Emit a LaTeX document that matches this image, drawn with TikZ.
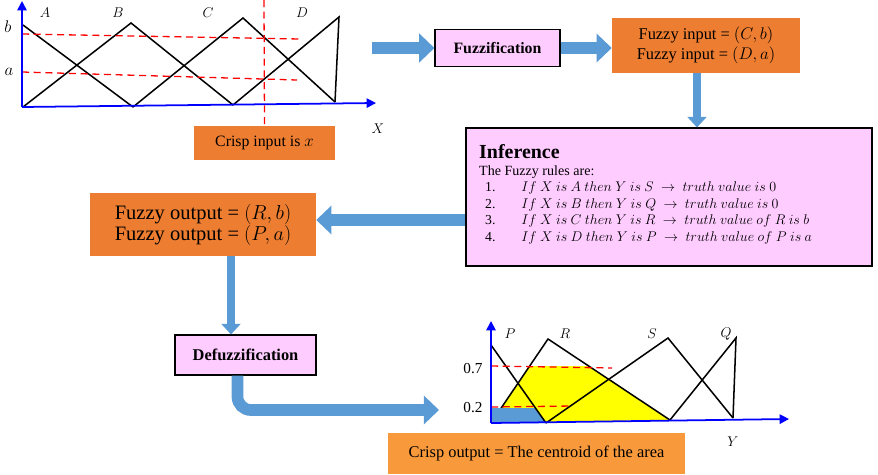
\documentclass[tikz,border=0pt]{standalone}
\usepackage{fontspec}
\setmainfont{Liberation Serif}
\usetikzlibrary{arrows.meta,positioning}
\definecolor{boxpink}{HTML}{FFCCFF}
\definecolor{boxorange}{HTML}{ED7D31}
\definecolor{lightorange}{HTML}{F8993C}
\definecolor{arrowblue}{HTML}{5B9BD5}
\definecolor{axisblue}{HTML}{0000FF}
\definecolor{areayellow}{HTML}{FFFF00}
\tikzset{
  stagebox/.style={draw=black,line width=.9pt,fill=boxpink,inner sep=0pt,font=\fontsize{13.5}{16}\selectfont\bfseries},
  valuebox/.style={fill=boxorange,align=center,inner sep=0pt},
  blockarrow/.style={draw=arrowblue,line width=10pt,-{Triangle[length=13pt,width=24pt]}},
  thinarrow/.style={draw=arrowblue,line width=7pt,-{Triangle[length=9pt,width=16pt]}},
  axis/.style={draw=axisblue,line width=1.5pt,-{Triangle[length=8pt,width=8pt]}},
  member/.style={draw=black,line width=1.3pt},
  level/.style={draw=red,line width=1.1pt,dash pattern=on 6pt off 4pt},
  mlabel/.style={inner sep=0pt,font=\fontsize{12}{14}\selectfont},
}

\begin{document}
\begin{tikzpicture}[x=0.03cm,y=-0.03cm]
  \useasboundingbox (0,0) rectangle (878,474);

  % input membership functions
  \draw[member] (23,25) -- (133,107);
  \draw[member] (23,107) -- (131,23) -- (233,105);
  \draw[member] (133,107) -- (243,18) -- (335,102);
  \draw[member] (233,105) -- (339,17) -- (335,102);
  \draw[level] (22,34) -- (300,39);
  \draw[level] (22,72) -- (297,80);
  \draw[axis] (22,107) -- (22,1);
  \draw[axis] (22,107) -- (376,103);
  \node[mlabel,font=\fontsize{15}{17}\selectfont] (lb) at (8,27) {$b$};
  \node[mlabel,font=\fontsize{15}{17}\selectfont] (la) at (9,72) {$a$};
  \node[mlabel] (lA) at (45,13) {$A$};
  \node[mlabel] (lB) at (118,13) {$B$};
  \node[mlabel] (lC) at (208,13) {$C$};
  \node[mlabel] (lD) at (302,13) {$D$};
  \node[mlabel] (lX) at (378,129) {$X$};

  \node[valuebox,minimum width=4.23cm,minimum height=1.02cm,font=\fontsize{13.5}{16}\selectfont] (cin) at (264.5,143) {Crisp input is $x$};
  \draw[level] (264,0) -- (cin.north);

  % pipeline boxes
  \node[stagebox,minimum width=3.75cm,minimum height=1.11cm] (fuzz) at (497.5,48) {Fuzzification};
  \node[valuebox,minimum width=5.64cm,minimum height=1.65cm,font=\fontsize{14}{17}\selectfont] (fin) at (706,45.5) {Fuzzy input = $(C,b)$\\Fuzzy input = $(D,a)$};
  \node[stagebox,minimum width=12.18cm,minimum height=4.14cm] (inf) at (669,197) {};
  \node[anchor=base west,inner sep=0pt,font=\fontsize{17}{20}\selectfont\bfseries] (infhead) at (479,158) {Inference};
  \node[anchor=base west,inner sep=0pt,font=\fontsize{12}{14}\selectfont] (infsub) at (479,175) {The Fuzzy rules are:};
  \node[anchor=north west,inner sep=0pt,font=\fontsize{11.7}{14.45}\selectfont] (rulelist) at (485,179) {%
    \begin{tabular}{@{}l@{\hspace{22pt}}l@{}}
      1. & $If\ X\ is\ A\ then\ Y\ is\ S\ \rightarrow\ truth\ value\ is\ 0$\\
      2. & $If\ X\ is\ B\ then\ Y\ is\ Q\ \rightarrow\ truth\ value\ is\ 0$\\
      3. & $If\ X\ is\ C\ then\ Y\ is\ R\ \rightarrow\ truth\ value\ of\ R\ is\ b$\\
      4. & $If\ X\ is\ D\ then\ Y\ is\ P\ \rightarrow\ truth\ value\ of\ P\ is\ a$
    \end{tabular}};
  \node[valuebox,minimum width=6.78cm,minimum height=1.89cm,font=\fontsize{17.5}{18}\selectfont] (fout) at (203,224.5) {Fuzzy output = $(R,b)$\\Fuzzy output = $(P,a)$};
  \node[stagebox,minimum width=4.23cm,minimum height=1.2cm,font=\fontsize{14}{16}\selectfont\bfseries] (defz) at (245.5,355) {Defuzzification};
  \node[valuebox,fill=lightorange,minimum width=8.91cm,minimum height=1.23cm,font=\fontsize{14}{16}\selectfont] (cout) at (536.5,453.5) {Crisp output = The centroid of the area};

  % block arrows
  \coordinate (gout) at (372,48);
  \coordinate (gin) at (439,410);
  \draw[blockarrow] (gout) -- (fuzz.west);
  \draw[blockarrow] (fuzz.east) -- (fuzz.east -| fin.west);
  \draw[thinarrow] ([xshift=-0.27cm]fin.south) -- ([xshift=-0.27cm]fin.south |- inf.north);
  \draw[blockarrow] ([yshift=-0.69cm]inf.west) -- ([yshift=-0.69cm]inf.west -| fout.east);
  \draw[thinarrow] ([xshift=0.84cm]fout.south) -- ([xshift=0.84cm]fout.south |- defz.north);
  \draw[blockarrow,rounded corners=0.4cm] ([xshift=-0.24cm]defz.south) |- (gin);

  % output membership functions
  \fill[areayellow] (491,423) -- (530,366) -- (589,366) -- (670,420) -- cycle;
  \draw[member] (491,423) -- (548,339) -- (670,420);
  \draw[member] (546,423) -- (668,338) -- (733,418);
  \draw[member] (670,420) -- (736,338) -- (733,418);
  \fill[arrowblue] (491,408) -- (535,408) -- (546,423) -- (491,423) -- cycle;
  \draw[member] (491,345) -- (546,423);
  \draw[level] (491,366) -- (612,368);
  \draw[level] (491,407) -- (573,406);
  \draw[axis] (491,423) -- (491,321);
  \draw[axis] (491,423) -- (789,419);
  \node[mlabel] (lP) at (510,334) {$P$};
  \node[mlabel] (lR) at (565,334) {$R$};
  \node[mlabel] (lS) at (652,334) {$S$};
  \node[mlabel] (lQ) at (726,334) {$Q$};
  \node[mlabel] (lY) at (733,442) {$Y$};
  \node[mlabel,font=\fontsize{13}{15}\selectfont] (l07) at (473,369) {0.7};
  \node[mlabel,font=\fontsize{13}{15}\selectfont] (l02) at (473,408) {0.2};
\end{tikzpicture}
\end{document}
